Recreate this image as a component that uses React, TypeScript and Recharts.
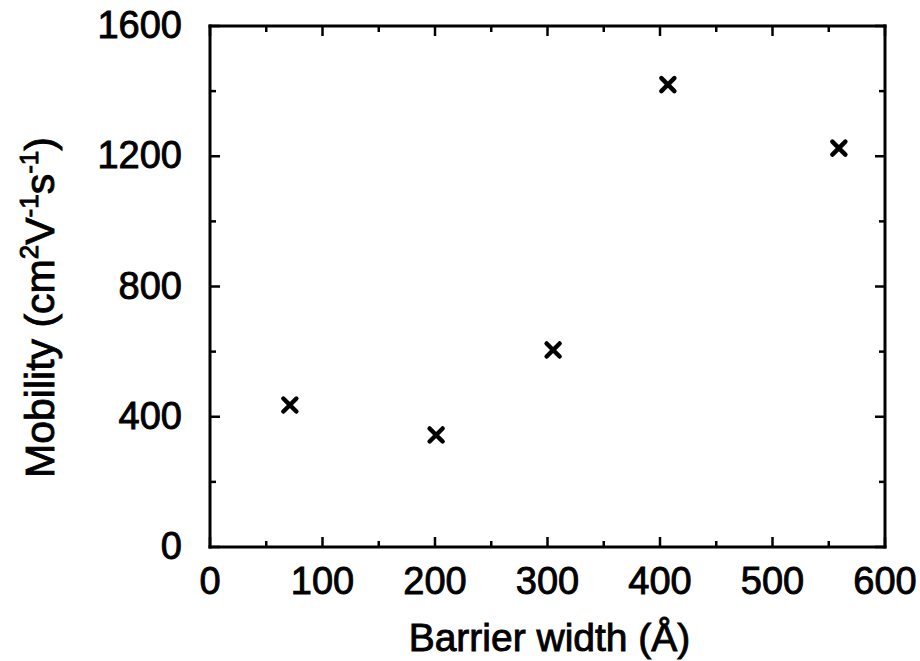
import { Label, Scatter, ScatterChart, XAxis, YAxis } from "recharts";

// barrier width (Å) vs mobility (cm^2 V^-1 s^-1)
const barrierWidth = [71, 201, 305, 407, 559];
const mobility = [436, 344, 605, 1420, 1225];

const xTicks = [0, 50, 100, 150, 200, 250, 300, 350, 400, 450, 500, 550, 600];
const yTicks = [0, 200, 400, 600, 800, 1000, 1200, 1400, 1600];

const points = barrierWidth.map((x, i) => ({ x, y: mobility[i] }));

const FONT = "'Liberation Sans', Arial, Helvetica, sans-serif";
const FS = 38;
const BOLDEN = 0.9;

function BottomTick({ x, y, payload }: any) {
  const major = payload.value % 100 === 0;
  return (
    <g>
      <line x1={x} x2={x} y1={y} y2={y - (major ? 10 : 6)} stroke="#000" strokeWidth={2.5} />
      {major && (
        <text x={x} y={y + 47} textAnchor="middle" fontFamily={FONT} fontSize={FS} fill="#000" stroke="#000" strokeWidth={BOLDEN}>
          {payload.value}
        </text>
      )}
    </g>
  );
}

function TopTick({ x, y, payload }: any) {
  const major = payload.value % 100 === 0;
  return <line x1={x} x2={x} y1={y} y2={y + (major ? 10 : 6)} stroke="#000" strokeWidth={2.5} />;
}

function LeftTick({ x, y, payload }: any) {
  const major = payload.value % 400 === 0;
  return (
    <g>
      <line x1={x} x2={x + (major ? 10 : 6)} y1={y} y2={y} stroke="#000" strokeWidth={2.5} />
      {major && (
        <text x={x - 28} y={y + 12} textAnchor="end" fontFamily={FONT} fontSize={FS} fill="#000" stroke="#000" strokeWidth={BOLDEN}>
          {payload.value}
        </text>
      )}
    </g>
  );
}

function RightTick({ x, y, payload }: any) {
  const major = payload.value % 400 === 0;
  return <line x1={x} x2={x - (major ? 10 : 6)} y1={y} y2={y} stroke="#000" strokeWidth={2.5} />;
}

function Cross({ cx, cy }: any) {
  const r = 6.5;
  return (
    <path
      d={`M${cx - r},${cy - r}L${cx + r},${cy + r}M${cx - r},${cy + r}L${cx + r},${cy - r}`}
      stroke="#000"
      strokeWidth={4.5}
      strokeLinecap="round"
      fill="none"
    />
  );
}

function XTitle({ viewBox }: any) {
  const { x, y, width } = viewBox;
  return (
    <text x={x + width / 2 + 2} y={y + 104} textAnchor="middle" fontFamily={FONT} fontSize={39} fill="#000" stroke="#000" strokeWidth={BOLDEN}>
      Barrier width (Å)
    </text>
  );
}

function YTitle({ viewBox }: any) {
  const { y, height } = viewBox;
  const cx = 54;
  const cy = y + height / 2 + 21;
  const sup = 26;
  return (
    <text
      x={cx}
      y={cy}
      transform={`rotate(-90 ${cx} ${cy})`}
      textAnchor="middle"
      fontFamily={FONT}
      fontSize={41}
      fill="#000"
      stroke="#000"
      strokeWidth={BOLDEN}
    >
      Mobility (cm
      <tspan fontSize={sup} dy={-16}>2</tspan>
      <tspan dy={16}>V</tspan>
      <tspan fontSize={sup} dy={-16}>-1</tspan>
      <tspan dy={16}>s</tspan>
      <tspan fontSize={sup} dy={-16}>-1</tspan>
      <tspan dy={16}>)</tspan>
    </text>
  );
}

const axisLine = { stroke: "#000", strokeWidth: 3, strokeLinecap: "square" as const };

export default function App() {
  return (
    <div style={{ position: "absolute", left: 0, top: 0, width: 920, height: 661, background: "#fff" }}>
      <ScatterChart width={920} height={661} margin={{ top: 25, right: 34, bottom: 113, left: 209 }}>
        <XAxis
          xAxisId="bottom"
          type="number"
          dataKey="x"
          domain={[0, 600]}
          ticks={xTicks}
          allowDataOverflow
          height={1}
          tickSize={0}
          tickMargin={0}
          tickLine={false}
          axisLine={axisLine}
          tick={<BottomTick />}
          interval={0}
        >
          <Label content={<XTitle />} />
        </XAxis>
        <XAxis
          xAxisId="top"
          orientation="top"
          type="number"
          dataKey="x"
          domain={[0, 600]}
          ticks={xTicks}
          allowDataOverflow
          height={1}
          tickSize={0}
          tickMargin={0}
          tickLine={false}
          axisLine={axisLine}
          tick={<TopTick />}
          interval={0}
        />
        <YAxis
          yAxisId="left"
          type="number"
          dataKey="y"
          domain={[0, 1600]}
          ticks={yTicks}
          allowDataOverflow
          width={1}
          tickSize={0}
          tickMargin={0}
          tickLine={false}
          axisLine={axisLine}
          tick={<LeftTick />}
          interval={0}
        >
          <Label content={<YTitle />} />
        </YAxis>
        <YAxis
          yAxisId="right"
          orientation="right"
          type="number"
          dataKey="y"
          domain={[0, 1600]}
          ticks={yTicks}
          allowDataOverflow
          width={1}
          tickSize={0}
          tickMargin={0}
          tickLine={false}
          axisLine={axisLine}
          tick={<RightTick />}
          interval={0}
        />
        <Scatter
          xAxisId="bottom"
          yAxisId="left"
          data={points}
          shape={<Cross />}
          isAnimationActive={false}
        />
        <Scatter
          xAxisId="top"
          yAxisId="right"
          data={points}
          shape={() => <g />}
          isAnimationActive={false}
        />
      </ScatterChart>
    </div>
  );
}
